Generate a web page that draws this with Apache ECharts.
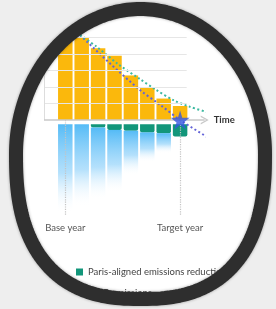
<!DOCTYPE html>
<html>
<head>
<meta charset="utf-8">
<script src="https://cdn.jsdelivr.net/npm/echarts@6/dist/echarts.min.js"></script>
<style>
    html, body { margin: 0; padding: 0; background: #eeeeee; }
    #chart { width: 276px; height: 309px; }
</style>
</head>
<body>
<div id="chart"></div>
<script>
    // bar positions on the time axis (1 = base year, 8 = target year)
    const years = [1, 2, 3, 4, 5, 6, 7, 8];
    // yellow part above the axis
    const emissionsAbove = [4.9, 5.0, 4.35, 3.9, 2.7, 2.0, 1.3, 0.85];
    // green part just under the axis
    const parisReduction = [0, 0, -0.2, -0.35, -0.4, -0.5, -0.55, -0.75];
    // blue fading part under the green
    const emissionsBelow = [-5.4, -5.0, -4.4, -3.8, -2.7, -1.8, -1.2, 0];
    // dotted pathways [time, value]
    const linearPath = [[1.9, 5.15], [3.7, 3.45], [5.55, 1.82], [6.8, 0.91], [8, 0], [9.65, -1.03]];
    const parisPath = [[1.9, 5.15], [2.9, 4.45], [4.2, 3.4], [5.55, 2.48], [6.5, 1.85], [7.6, 1.2], [8.6, 0.8], [9.65, 0.48]];
    const gridLevels = [1, 2, 3, 4, 5];
    const milestones = [{x: 1, name: 'Base year'}, {x: 8, name: 'Target year'}];
    const target = [8, 0];

    const FONT = 'Lato, "Noto Sans", sans-serif';
    const X_LEFT = -0.3;     // where the y axis sits
    const GRID_END = 8.4;    // where the horizontal gridlines stop
    const AXIS_END = 9.5;    // arrow end of the time axis
    const AXIS_GAP = -0.25;  // small white gap under the axis
    const STAR = 'path://M50,0 L61,35 L98,35 L68,57 L79,91 L50,70 L21,91 L32,57 L2,35 L39,35 Z';
    const CHEVRON = 'path://M0,10 L5,0 L10,10 L8.4,10 L5,3.2 L1.6,10 Z';

    // category slots for the bars: one empty slot on each side
    const slots = ['pre', ...years.map(String), 'post'];
    const pairs = (vals) => years.map((x, i) => [String(x), vals[i]]);

    // outline of the lens: ellipse on top, a bit squarer at the bottom
    function lensOutline(cx, cy, a, b, nBottom, steps) {
        const pts = [];
        for (let i = 0; i <= steps; i++) {
            const t = Math.PI - i / steps * 2 * Math.PI;
            const c = Math.cos(t);
            const s = Math.sin(t);
            const n = s > 0 ? nBottom : 2;
            pts.push([
                cx + a * Math.sign(c) * Math.pow(Math.abs(c), 2 / n),
                cy + b * Math.sign(s) * Math.pow(Math.abs(s), 2 / n)
            ]);
        }
        return pts;
    }

    const rim = lensOutline(140.5, 154, 124.5, 145, 2.5, 240);
    const maskPoints = [[-20, -20], [300, -20], [300, 330], [-20, 330], [-20, rim[0][1]], ...rim, [-20, rim[0][1]]];

    const chart = echarts.init(document.getElementById('chart'));

    const option = {
        backgroundColor: '#ffffff',
        animation: false,
        grid: {left: 40.7, right: 71.3, top: 21, bottom: 90},
        legend: {
            data: ['Paris-aligned emissions reductions', 'GHG emissions'],
            orient: 'vertical',
            left: 71,
            top: 262,
            itemWidth: 7,
            itemHeight: 7,
            itemGap: 11,
            icon: 'rect',
            textStyle: {fontSize: 9.5, color: '#444', fontFamily: FONT}
        },
        xAxis: [
            {type: 'value', min: -0.5, max: 9.5, show: false},
            {type: 'category', data: slots, show: false}
        ],
        yAxis: {type: 'value', min: -6, max: 6, show: false},
        series: [
            {
                // gridlines, axes and the year markers
                type: 'line',
                data: [],
                z: 1,
                clip: false,
                silent: true,
                markLine: {
                    symbol: 'none',
                    silent: true,
                    animation: false,
                    data: [
                        ...gridLevels.map(v => [
                            {coord: [X_LEFT, v], lineStyle: {color: '#e6e6e6', width: 1, type: 'solid'}, label: {show: false}},
                            {coord: [GRID_END, v]}
                        ]),
                        [
                            {coord: [X_LEFT, 0], lineStyle: {color: '#dddddd', width: 1, type: 'solid'}, label: {show: false}},
                            {coord: [X_LEFT, 5.4]}
                        ],
                        ...milestones.map(m => [
                            {
                                coord: [m.x, 0],
                                name: m.name,
                                lineStyle: {color: '#c4c4c4', width: 1.2, type: 'dotted'},
                                label: {
                                    show: true,
                                    position: 'end',
                                    distance: 7,
                                    formatter: '{b}',
                                    fontSize: 9.5,
                                    color: '#555',
                                    fontFamily: FONT
                                }
                            },
                            {coord: [m.x, -5.8]}
                        ])
                    ]
                }
            },
            {
                // time axis with its arrow, over the bars
                type: 'line',
                data: [],
                z: 4,
                clip: false,
                silent: true,
                markLine: {
                    silent: true,
                    animation: false,
                    symbol: ['none', CHEVRON],
                    symbolSize: [9, 8],
                    data: [[
                        {
                            coord: [X_LEFT, 0],
                            name: 'Time',
                            lineStyle: {color: '#c9c9c9', width: 1.5, type: 'solid'},
                            label: {
                                show: true,
                                position: 'end',
                                distance: 9,
                                formatter: '{b}',
                                fontSize: 9.5,
                                fontWeight: 'bold',
                                color: '#333',
                                fontFamily: FONT
                            }
                        },
                        {coord: [AXIS_END, 0]}
                    ]]
                }
            },
            {
                name: 'Emissions',
                type: 'bar',
                xAxisIndex: 1,
                stack: 'all',
                barWidth: 14.5,
                data: pairs(emissionsAbove),
                itemStyle: {color: '#fbb80c'},
                z: 2
            },
            {
                type: 'bar',
                xAxisIndex: 1,
                stack: 'all',
                barWidth: 14.5,
                data: years.map(x => [String(x), AXIS_GAP]),
                itemStyle: {color: 'rgba(0,0,0,0)'},
                silent: true,
                z: 2
            },
            {
                name: 'Paris-aligned emissions reductions',
                type: 'bar',
                xAxisIndex: 1,
                stack: 'all',
                barWidth: 14.5,
                data: pairs(parisReduction),
                itemStyle: {color: '#12967a', borderRadius: [0, 0, 2, 2]},
                z: 2
            },
            {
                name: 'GHG emissions',
                type: 'bar',
                xAxisIndex: 1,
                stack: 'all',
                barWidth: 14.5,
                data: pairs(emissionsBelow),
                itemStyle: {
                    color: new echarts.graphic.LinearGradient(0, 0, 0, 1, [
                        {offset: 0, color: '#55bbf6'},
                        {offset: 0.55, color: 'rgba(140, 208, 250, 0.65)'},
                        {offset: 1, color: 'rgba(255, 255, 255, 0)'}
                    ])
                },
                z: 2
            },
            {
                type: 'line',
                data: linearPath,
                smooth: 0.3,
                clip: false,
                showSymbol: false,
                silent: true,
                lineStyle: {color: '#6464d8', width: 2, type: [2, 2.5]},
                z: 3
            },
            {
                type: 'line',
                data: parisPath,
                smooth: 0.3,
                clip: false,
                showSymbol: false,
                silent: true,
                lineStyle: {color: '#3cb9a0', width: 2, type: [2, 2.5]},
                z: 3
            },
            {
                type: 'scatter',
                data: [target],
                symbol: STAR,
                symbolSize: 19,
                itemStyle: {color: '#3556e0'},
                silent: true,
                z: 5
            }
        ],
        graphic: [
            {
                // grey page outside the lens
                type: 'polygon',
                silent: true,
                z: 99,
                shape: {points: maskPoints},
                style: {fill: '#eeeeee'}
            },
            {
                // the dark lens rim
                type: 'polygon',
                silent: true,
                z: 100,
                shape: {points: rim},
                style: {
                    fill: 'none',
                    stroke: '#2e2e2e',
                    lineWidth: 14,
                    lineJoin: 'round',
                    shadowBlur: 3,
                    shadowColor: 'rgba(0,0,0,0.35)'
                }
            }
        ]
    };

    chart.setOption(option);
</script>
</body>
</html>
